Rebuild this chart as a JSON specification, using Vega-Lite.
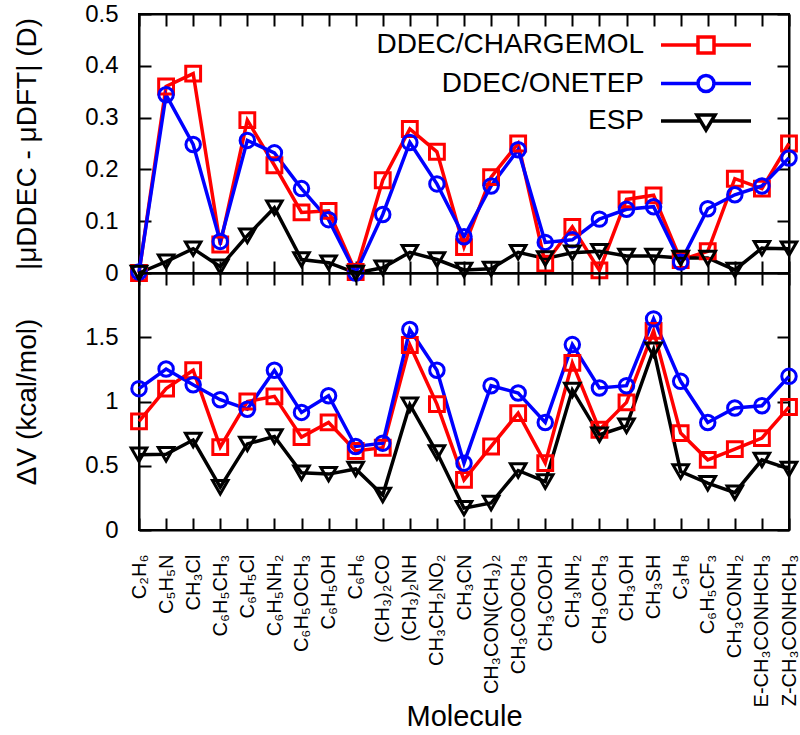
{
  "$schema": "https://vega.github.io/schema/vega-lite/v6.json",
  "padding": {"left": 12, "top": 1, "right": 5, "bottom": 0},
  "background": "white",
  "config": {
    "font": "Liberation Sans",
    "view": {"stroke": "black", "strokeWidth": 2},
    "axis": {
      "domainColor": "black", "domainWidth": 2, "tickColor": "black", "tickWidth": 2, "tickSize": -12,
      "labelColor": "black", "titleColor": "black", "labelFont": "Liberation Sans", "titleFont": "Liberation Sans",
      "titleFontWeight": "normal", "grid": false, "labelFontSize": 24, "titleFontSize": 28
    }
  },
  "datasets": {
    "d": [
      {"m": "C₂H₆", "s": "DDEC/CHARGEMOL", "mu": 0.0, "dv": 0.845},
      {"m": "C₅H₅N", "s": "DDEC/CHARGEMOL", "mu": 0.36, "dv": 1.1},
      {"m": "CH₃Cl", "s": "DDEC/CHARGEMOL", "mu": 0.385, "dv": 1.243},
      {"m": "C₆H₅CH₃", "s": "DDEC/CHARGEMOL", "mu": 0.055, "dv": 0.645},
      {"m": "C₆H₅Cl", "s": "DDEC/CHARGEMOL", "mu": 0.295, "dv": 1.0},
      {"m": "C₆H₅NH₂", "s": "DDEC/CHARGEMOL", "mu": 0.208, "dv": 1.04},
      {"m": "C₆H₅OCH₃", "s": "DDEC/CHARGEMOL", "mu": 0.117, "dv": 0.723},
      {"m": "C₆H₅OH", "s": "DDEC/CHARGEMOL", "mu": 0.12, "dv": 0.837},
      {"m": "C₆H₆", "s": "DDEC/CHARGEMOL", "mu": 0.002, "dv": 0.615},
      {"m": "(CH₃)₂CO", "s": "DDEC/CHARGEMOL", "mu": 0.179, "dv": 0.64},
      {"m": "(CH₃)₂NH", "s": "DDEC/CHARGEMOL", "mu": 0.278, "dv": 1.44},
      {"m": "CH₃CH₂NO₂", "s": "DDEC/CHARGEMOL", "mu": 0.234, "dv": 0.98},
      {"m": "CH₃CN", "s": "DDEC/CHARGEMOL", "mu": 0.05, "dv": 0.39},
      {"m": "CH₃CON(CH₃)₂", "s": "DDEC/CHARGEMOL", "mu": 0.185, "dv": 0.65},
      {"m": "CH₃COOCH₃", "s": "DDEC/CHARGEMOL", "mu": 0.25, "dv": 0.91},
      {"m": "CH₃COOH", "s": "DDEC/CHARGEMOL", "mu": 0.018, "dv": 0.52},
      {"m": "CH₃NH₂", "s": "DDEC/CHARGEMOL", "mu": 0.089, "dv": 1.3},
      {"m": "CH₃OCH₃", "s": "DDEC/CHARGEMOL", "mu": 0.005, "dv": 0.78},
      {"m": "CH₃OH", "s": "DDEC/CHARGEMOL", "mu": 0.142, "dv": 0.993},
      {"m": "CH₃SH", "s": "DDEC/CHARGEMOL", "mu": 0.15, "dv": 1.55},
      {"m": "C₃H₈", "s": "DDEC/CHARGEMOL", "mu": 0.025, "dv": 0.754},
      {"m": "C₆H₅CF₃", "s": "DDEC/CHARGEMOL", "mu": 0.042, "dv": 0.546},
      {"m": "CH₃CONH₂", "s": "DDEC/CHARGEMOL", "mu": 0.182, "dv": 0.629},
      {"m": "E-CH₃CONHCH₃", "s": "DDEC/CHARGEMOL", "mu": 0.163, "dv": 0.715},
      {"m": "Z-CH₃CONHCH₃", "s": "DDEC/CHARGEMOL", "mu": 0.25, "dv": 0.957},
      {"m": "C₂H₆", "s": "DDEC/ONETEP", "mu": 0.002, "dv": 1.1},
      {"m": "C₅H₅N", "s": "DDEC/ONETEP", "mu": 0.344, "dv": 1.253},
      {"m": "CH₃Cl", "s": "DDEC/ONETEP", "mu": 0.248, "dv": 1.13},
      {"m": "C₆H₅CH₃", "s": "DDEC/ONETEP", "mu": 0.061, "dv": 1.014},
      {"m": "C₆H₅Cl", "s": "DDEC/ONETEP", "mu": 0.256, "dv": 0.94},
      {"m": "C₆H₅NH₂", "s": "DDEC/ONETEP", "mu": 0.232, "dv": 1.243},
      {"m": "C₆H₅OCH₃", "s": "DDEC/ONETEP", "mu": 0.163, "dv": 0.915},
      {"m": "C₆H₅OH", "s": "DDEC/ONETEP", "mu": 0.103, "dv": 1.045},
      {"m": "C₆H₆", "s": "DDEC/ONETEP", "mu": 0.0, "dv": 0.65},
      {"m": "(CH₃)₂CO", "s": "DDEC/ONETEP", "mu": 0.113, "dv": 0.676},
      {"m": "(CH₃)₂NH", "s": "DDEC/ONETEP", "mu": 0.252, "dv": 1.56},
      {"m": "CH₃CH₂NO₂", "s": "DDEC/ONETEP", "mu": 0.172, "dv": 1.243},
      {"m": "CH₃CN", "s": "DDEC/ONETEP", "mu": 0.07, "dv": 0.52},
      {"m": "CH₃CON(CH₃)₂", "s": "DDEC/ONETEP", "mu": 0.168, "dv": 1.123},
      {"m": "CH₃COOCH₃", "s": "DDEC/ONETEP", "mu": 0.238, "dv": 1.066},
      {"m": "CH₃COOH", "s": "DDEC/ONETEP", "mu": 0.059, "dv": 0.837},
      {"m": "CH₃NH₂", "s": "DDEC/ONETEP", "mu": 0.064, "dv": 1.443},
      {"m": "CH₃OCH₃", "s": "DDEC/ONETEP", "mu": 0.104, "dv": 1.105},
      {"m": "CH₃OH", "s": "DDEC/ONETEP", "mu": 0.123, "dv": 1.123},
      {"m": "CH₃SH", "s": "DDEC/ONETEP", "mu": 0.128, "dv": 1.643},
      {"m": "C₃H₈", "s": "DDEC/ONETEP", "mu": 0.021, "dv": 1.157},
      {"m": "C₆H₅CF₃", "s": "DDEC/ONETEP", "mu": 0.124, "dv": 0.837},
      {"m": "CH₃CONH₂", "s": "DDEC/ONETEP", "mu": 0.151, "dv": 0.949},
      {"m": "E-CH₃CONHCH₃", "s": "DDEC/ONETEP", "mu": 0.168, "dv": 0.967},
      {"m": "Z-CH₃CONHCH₃", "s": "DDEC/ONETEP", "mu": 0.222, "dv": 1.196},
      {"m": "C₂H₆", "s": "ESP", "mu": 0.0, "dv": 0.585},
      {"m": "C₅H₅N", "s": "ESP", "mu": 0.022, "dv": 0.59},
      {"m": "CH₃Cl", "s": "ESP", "mu": 0.047, "dv": 0.7},
      {"m": "C₆H₅CH₃", "s": "ESP", "mu": 0.012, "dv": 0.333},
      {"m": "C₆H₅Cl", "s": "ESP", "mu": 0.072, "dv": 0.67},
      {"m": "C₆H₅NH₂", "s": "ESP", "mu": 0.126, "dv": 0.728},
      {"m": "C₆H₅OCH₃", "s": "ESP", "mu": 0.026, "dv": 0.445},
      {"m": "C₆H₅OH", "s": "ESP", "mu": 0.02, "dv": 0.435},
      {"m": "C₆H₆", "s": "ESP", "mu": 0.0, "dv": 0.475},
      {"m": "(CH₃)₂CO", "s": "ESP", "mu": 0.01, "dv": 0.273},
      {"m": "(CH₃)₂NH", "s": "ESP", "mu": 0.04, "dv": 0.975},
      {"m": "CH₃CH₂NO₂", "s": "ESP", "mu": 0.026, "dv": 0.603},
      {"m": "CH₃CN", "s": "ESP", "mu": 0.006, "dv": 0.17},
      {"m": "CH₃CON(CH₃)₂", "s": "ESP", "mu": 0.008, "dv": 0.21},
      {"m": "CH₃COOCH₃", "s": "ESP", "mu": 0.04, "dv": 0.463},
      {"m": "CH₃COOH", "s": "ESP", "mu": 0.028, "dv": 0.377},
      {"m": "CH₃NH₂", "s": "ESP", "mu": 0.039, "dv": 1.09},
      {"m": "CH₃OCH₃", "s": "ESP", "mu": 0.042, "dv": 0.741},
      {"m": "CH₃OH", "s": "ESP", "mu": 0.033, "dv": 0.811},
      {"m": "CH₃SH", "s": "ESP", "mu": 0.033, "dv": 1.404},
      {"m": "C₃H₈", "s": "ESP", "mu": 0.029, "dv": 0.455},
      {"m": "C₆H₅CF₃", "s": "ESP", "mu": 0.029, "dv": 0.364},
      {"m": "CH₃CONH₂", "s": "ESP", "mu": 0.006, "dv": 0.291},
      {"m": "E-CH₃CONHCH₃", "s": "ESP", "mu": 0.048, "dv": 0.546},
      {"m": "Z-CH₃CONHCH₃", "s": "ESP", "mu": 0.047, "dv": 0.475}
    ]
  },
  "spacing": 0,
  "bounds": "flush",
  "vconcat": [
    {
      "width": 650, "height": 259,
      "data": {"name": "d"},
      "encoding": {
        "x": {"field": "m", "type": "ordinal", "sort": null, "scale": {"type": "point", "padding": 0}},
        "y": {"field": "mu", "type": "quantitative", "scale": {"domain": [0, 0.5], "nice": false}}
      },
      "layer": [
        {
          "mark": {"type": "point", "filled": false, "opacity": 0, "strokeWidth": 3.5},
          "encoding": {
            "x": {"field": "m", "type": "ordinal", "sort": null, "axis": null},
            "y": {"field": "mu", "type": "quantitative", "axis": null},
            "color": {"field": "s", "type": "nominal",
                      "scale": {"domain": ["DDEC/CHARGEMOL", "DDEC/ONETEP", "ESP"], "range": ["#ff0000", "#0000ff", "#000000"]},
                      "legend": {
                        "title": null, "orient": "none", "legendX": 553, "legendY": 17, "padding": 0,
                        "labelFontSize": 28, "labelFont": "Liberation Sans", "labelColor": "black", "labelAlign": "right", "labelOffset": -76,
                        "labelLimit": 500, "symbolOpacity": 1,
                        "symbolSize": 400, "symbolStrokeWidth": 3.5, "rowPadding": 8.5
                      }},
            "shape": {"field": "s", "type": "nominal",
                      "scale": {"domain": ["DDEC/CHARGEMOL", "DDEC/ONETEP", "ESP"],
                                "range": ["M-4.5,0H-0.8M0.8,0H4.5M-0.8,-0.8H0.8V0.8H-0.8Z",
                                          "M-4.5,0H-0.8M0.8,0H4.5M0.8,0A0.8,0.8,0,1,1,-0.8,0A0.8,0.8,0,1,1,0.8,0Z",
                                          "M-4.5,0H-0.54M0.54,0H4.5M-0.9,-0.6L0.9,-0.6L0,0.9Z"]},
                      "legend": {
                        "title": null, "orient": "none", "legendX": 553, "legendY": 17, "padding": 0,
                        "labelFontSize": 28, "labelFont": "Liberation Sans", "labelColor": "black", "labelAlign": "right", "labelOffset": -76,
                        "labelLimit": 500, "symbolOpacity": 1,
                        "symbolSize": 400, "symbolStrokeWidth": 3.5, "rowPadding": 8.5
                      }}
          }
        },
        {
          "mark": {"type": "line", "strokeWidth": 3.5},
          "encoding": {
            "x": {"field": "m", "type": "ordinal", "sort": null, "axis": {"orient": "bottom", "labels": false, "title": null}},
            "y": {"field": "mu", "type": "quantitative",
                  "axis": {"orient": "left", "values": [0, 0.1, 0.2, 0.3, 0.4, 0.5], "labelExpr": "toString(datum.value)",
                           "labelPadding": 33, "title": "|μDDEC - μDFT| (D)", "titleAngle": 270, "titleBaseline": "alphabetic", "titleX": -104}},
            "color": {"field": "s", "type": "nominal"}
          }
        },
        {
          "transform": [{"filter": "datum.s === 'DDEC/CHARGEMOL'"}],
          "mark": {"type": "point", "shape": "square", "filled": false, "strokeWidth": 3, "size": 220, "opacity": 1, "color": "#ff0000"},
          "encoding": {
            "x": {"field": "m", "type": "ordinal", "sort": null, "axis": {"orient": "top", "labels": false, "title": null}},
            "y": {"field": "mu", "type": "quantitative",
                  "axis": {"orient": "right", "values": [0, 0.1, 0.2, 0.3, 0.4, 0.5], "labels": false, "title": null}}
          }
        },
        {
          "transform": [{"filter": "datum.s === 'DDEC/ONETEP'"}],
          "mark": {"type": "point", "shape": "circle", "filled": false, "strokeWidth": 3, "size": 210, "opacity": 1, "color": "#0000ff"},
          "encoding": {
            "x": {"field": "m", "type": "ordinal", "sort": null, "axis": null},
            "y": {"field": "mu", "type": "quantitative", "axis": null}
          }
        },
        {
          "transform": [{"filter": "datum.s === 'ESP'"}],
          "mark": {"type": "point", "shape": "triangle-down", "filled": false, "strokeWidth": 3, "size": 240, "opacity": 1, "color": "#000000"},
          "encoding": {
            "x": {"field": "m", "type": "ordinal", "sort": null, "axis": null},
            "y": {"field": "mu", "type": "quantitative", "axis": null}
          }
        }
      ],
      "resolve": {"axis": {"x": "independent", "y": "independent"}}
    },
    {
      "width": 650, "height": 257,
      "data": {"name": "d"},
      "encoding": {
        "x": {"field": "m", "type": "ordinal", "sort": null, "scale": {"type": "point", "padding": 0}},
        "y": {"field": "dv", "type": "quantitative", "scale": {"domain": [0, 2], "nice": false}}
      },
      "layer": [
        {
          "mark": {"type": "line", "strokeWidth": 3.5},
          "encoding": {
            "x": {"field": "m", "type": "ordinal", "sort": null,
                  "axis": {"orient": "bottom", "labelAngle": -90, "labelFontSize": 20, "labelPadding": 36,
                           "title": "Molecule", "titleFontSize": 29, "titleBaseline": "alphabetic", "titleY": 195}},
            "y": {"field": "dv", "type": "quantitative",
                  "axis": {"orient": "left", "values": [0, 0.5, 1, 1.5], "labelExpr": "toString(datum.value)",
                           "labelPadding": 33, "title": "ΔV (kcal/mol)", "titleAngle": 270, "titleBaseline": "alphabetic", "titleX": -104}},
            "color": {"field": "s", "type": "nominal"}
          }
        },
        {
          "transform": [{"filter": "datum.s === 'DDEC/CHARGEMOL'"}],
          "mark": {"type": "point", "shape": "square", "filled": false, "strokeWidth": 3, "size": 220, "opacity": 1, "color": "#ff0000"},
          "encoding": {
            "x": {"field": "m", "type": "ordinal", "sort": null, "axis": {"orient": "top", "labels": false, "title": null}},
            "y": {"field": "dv", "type": "quantitative",
                  "axis": {"orient": "right", "values": [0, 0.5, 1, 1.5], "labels": false, "title": null}}
          }
        },
        {
          "transform": [{"filter": "datum.s === 'DDEC/ONETEP'"}],
          "mark": {"type": "point", "shape": "circle", "filled": false, "strokeWidth": 3, "size": 210, "opacity": 1, "color": "#0000ff"},
          "encoding": {
            "x": {"field": "m", "type": "ordinal", "sort": null, "axis": null},
            "y": {"field": "dv", "type": "quantitative", "axis": null}
          }
        },
        {
          "transform": [{"filter": "datum.s === 'ESP'"}],
          "mark": {"type": "point", "shape": "triangle-down", "filled": false, "strokeWidth": 3, "size": 240, "opacity": 1, "color": "#000000"},
          "encoding": {
            "x": {"field": "m", "type": "ordinal", "sort": null, "axis": null},
            "y": {"field": "dv", "type": "quantitative", "axis": null}
          }
        }
      ],
      "resolve": {"axis": {"x": "independent", "y": "independent"}}
    }
  ]
}
